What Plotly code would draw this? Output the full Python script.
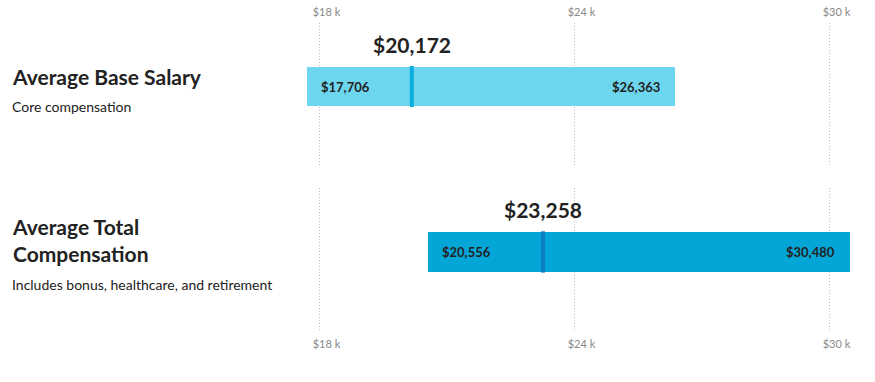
import plotly.graph_objects as go

# ---- data ----
titles = ["Average Base Salary", "Average Total<br>Compensation"]
subtitles = ["Core compensation", "Includes bonus, healthcare, and retirement"]
low_vals = [17706, 20556]
high_vals = [26363, 30480]
avg_vals = [20172, 23258]
tick_vals = [18000, 24000, 30000]
tick_text = ["$18 k", "$24 k", "$30 k"]

bar_colors = ["#6dd6ef", "#03a6d6"]
mark_colors = ["#0aafe0", "#0a7ec0"]

FONT = "Source Sans Pro, Lato, sans-serif"
W, H = 875, 382
px_per_k = 42.5
x0_px = 319.5
xr = [18000 - x0_px / px_per_k * 1000, 18000 + (W - x0_px) / px_per_k * 1000]

fig = go.Figure()

domains = [[1 - 166 / H, 1 - 23 / H], [1 - 332 / H, 1 - 188 / H]]
yr = [-79.5, 63.5]
bw = 39

for i in range(2):
    xa = "x" if i == 0 else "x2"
    ya = "y" if i == 0 else "y2"
    fig.add_trace(go.Bar(
        y=[0], x=[high_vals[i] - low_vals[i]], base=[low_vals[i]],
        orientation="h", width=bw, marker=dict(color=bar_colors[i], line=dict(width=0)),
        xaxis=xa, yaxis=ya, hoverinfo="skip", showlegend=False,
    ))
    fig.add_shape(type="line", x0=avg_vals[i], x1=avg_vals[i], y0=-bw / 2 - 1, y1=bw / 2 + 1,
                  xref=xa, yref=ya, line=dict(color=mark_colors[i], width=4))
    fig.add_annotation(x=avg_vals[i], y=bw / 2, xref=xa, yref=ya, yanchor="bottom",
                       yshift=8, text=f"<b>${avg_vals[i]:,}</b>", showarrow=False,
                       font=dict(family=FONT, size=21, color="#222"))
    fig.add_annotation(x=low_vals[i], y=0, xref=xa, yref=ya, xanchor="left", xshift=12,
                       text=f"<b>${low_vals[i]:,}</b>", showarrow=False,
                       font=dict(family=FONT, size=13, color="#222"))
    fig.add_annotation(x=high_vals[i], y=0, xref=xa, yref=ya, xanchor="right", xshift=-13,
                       text=f"<b>${high_vals[i]:,}</b>", showarrow=False,
                       font=dict(family=FONT, size=13, color="#222"))

# left labels
LX = 10 / W
fig.add_annotation(x=LX, y=1 - 76 / H, xref="paper", yref="paper", xanchor="left",
                   yanchor="middle", align="left", text=f"<b>{titles[0]}</b>", showarrow=False,
                   font=dict(family=FONT, size=21, color="#222"))
fig.add_annotation(x=LX, y=1 - 106 / H, xref="paper", yref="paper", xanchor="left",
                   yanchor="middle", align="left", text=subtitles[0], showarrow=False,
                   font=dict(family=FONT, size=14, color="#222"))
fig.add_annotation(x=LX, y=1 - 240 / H, xref="paper", yref="paper", xanchor="left",
                   yanchor="middle", align="left", text=f"<b>{titles[1]}</b>", showarrow=False,
                   font=dict(family=FONT, size=21, color="#222"))
fig.add_annotation(x=LX, y=1 - 284 / H, xref="paper", yref="paper", xanchor="left",
                   yanchor="middle", align="left", text=subtitles[1], showarrow=False,
                   font=dict(family=FONT, size=14, color="#222"))

xcommon = dict(range=xr, tickvals=tick_vals, ticktext=tick_text, showgrid=True,
               gridcolor="#bdbdbd", griddash="1px,2px", gridwidth=1, zeroline=False,
               showline=False, ticks="", tickfont=dict(family=FONT, size=11, color="#888"),
               fixedrange=True, ticklabelshift=7, ticklabelstandoff=4)

fig.update_layout(
    width=W, height=H, margin=dict(l=0, r=0, t=0, b=0),
    paper_bgcolor="white", plot_bgcolor="white", bargap=0,
    xaxis=dict(**xcommon, side="top", anchor="y", domain=[0, 1]),
    xaxis2=dict(**xcommon, side="bottom", anchor="y2", domain=[0, 1], matches="x"),
    yaxis=dict(domain=domains[0], range=yr, visible=False, fixedrange=True),
    yaxis2=dict(domain=domains[1], range=yr, visible=False, fixedrange=True),
)

fig.write_html("out.html", config={"displayModeBar": False},
               post_script="document.body.style.margin='0';document.body.style.overflow='hidden';")
